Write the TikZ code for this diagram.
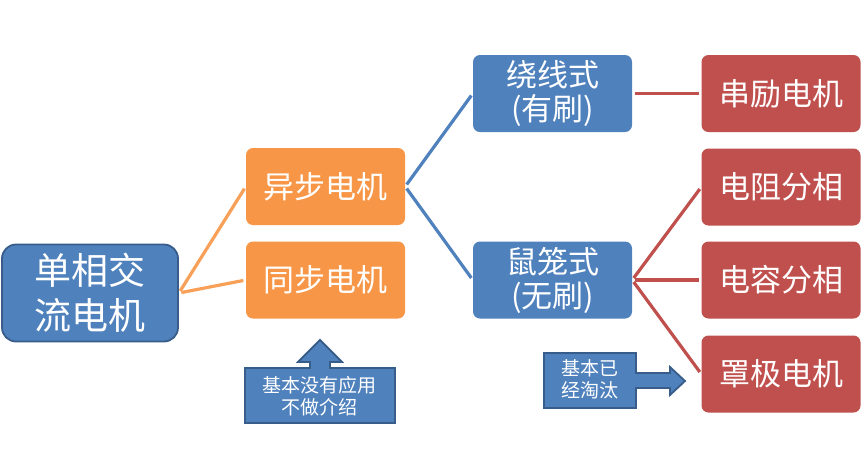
\documentclass[tikz,border=0pt]{standalone}
\usepackage{fontspec}
\newfontfamily\cjk{Noto Sans CJK SC}
\definecolor{motorblue}{HTML}{4F81BD}
\definecolor{motorborder}{HTML}{385D8A}
\definecolor{motororange}{HTML}{F79646}
\definecolor{motorred}{HTML}{C0504D}
\begin{document}
\begin{tikzpicture}[x=1pt,y=-1pt,
    box/.style={rounded corners=7pt, minimum width=159pt, minimum height=77pt, inner sep=0pt,
        align=center, text=white, font=\cjk\fontsize{31}{34}\selectfont},
    link/.style={line width=3.2pt, shorten <=2.5pt, shorten >=2.5pt},
    note/.style={fill=motorblue, draw=motorborder, line width=1.8pt, line join=miter},
    notetext/.style={text=white, align=center, inner sep=0pt, font=\cjk\fontsize{19}{22}\selectfont}]
        \useasboundingbox[fill=white] (0,0) rectangle (864,451);
        % root
        \node[box, fill=motorblue, draw=motorborder, line width=1.8pt, rounded corners=14pt,
            minimum width=176pt, minimum height=97pt, font=\cjk\fontsize{37}{45}\selectfont]
            (root) at (90,293) {单相交\\流电机};
        % async / sync
        \node[box, fill=motororange] (async) at (325.5,186.5) {异步电机};
        \node[box, fill=motororange] (sync) at (325.5,280) {同步电机};
        % rotor types
        \node[box, fill=motorblue] (wound) at (552.5,93.5) {绕线式\\(有刷)};
        \node[box, fill=motorblue] (cage) at (552.5,280) {鼠笼式\\(无刷)};
        % motors
        \node[box, fill=motorred] (series) at (781,93.5) {串励电机};
        \node[box, fill=motorred] (resist) at (781,187) {电阻分相};
        \node[box, fill=motorred] (capac) at (781,280) {电容分相};
        \node[box, fill=motorred] (shaded) at (781,374) {罩极电机};
        \draw[link, motororange!90!white] (root.east) -- (async.west);
        \draw[link, motororange!90!white] (root.east) -- (sync.west);
        \draw[link, motorblue] (async.east) -- (wound.west);
        \draw[link, motorblue] (async.east) -- (cage.west);
        \draw[link, motorred] (wound.east) -- (series.west);
        \draw[link, motorred] (cage.east) -- (resist.west);
        \draw[link, motorred] (cage.east) -- (capac.west);
        \draw[link, motorred] (cage.east) -- (shaded.west);
        % callouts
        \filldraw[note] (245,368) -- (310,368) -- (310,362) -- (298,362) -- (320,340) -- (342,362)
            -- (330,362) -- (330,368) -- (395,368) -- (395,423) -- (245,423) -- cycle;
        \node[notetext] (note1) at (319,396) {基本没有应用\\不做介绍};
        \filldraw[note] (544,353) -- (636,353) -- (636,373) -- (670,373) -- (670,367) -- (685,381)
            -- (670,395) -- (670,388) -- (636,388) -- (636,408) -- (544,408) -- cycle;
        \node[notetext] (note2) at (590,379) {基本已\\经淘汰};
    \end{tikzpicture}
\end{document}
